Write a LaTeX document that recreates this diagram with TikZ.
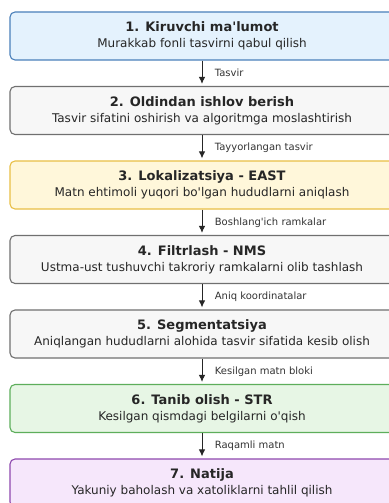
\documentclass[tikz,border=0pt]{standalone}
\usepackage{fontspec}
\setmainfont{DejaVu Sans}[Ligatures=TeXOff]
\usetikzlibrary{arrows.meta}
\definecolor{bluefill}{HTML}{E4F2FD}
\definecolor{blueline}{HTML}{4A80BA}
\definecolor{grayfill}{HTML}{F7F7F7}
\definecolor{grayline}{HTML}{707070}
\definecolor{yellowfill}{HTML}{FFF7DA}
\definecolor{yellowline}{HTML}{E8BF45}
\definecolor{greenfill}{HTML}{E7F6E5}
\definecolor{greenline}{HTML}{5DAE5B}
\definecolor{purplefill}{HTML}{F6E7FB}
\definecolor{purpleline}{HTML}{8E48AE}
\newcommand{\titlef}{\bfseries\fontsize{13}{17.5}\selectfont}
\newcommand{\subf}{\fontsize{12}{17.5}\selectfont}
\begin{document}
\begin{tikzpicture}[x=1pt,y=-1pt,
	box/.style={draw,rounded corners=5pt,line width=1.1pt,minimum width=384pt,
		minimum height=48pt,align=center,inner sep=0pt,text=black!85},
	flow/.style={-{Latex[length=7pt,width=6.5pt]},line width=1pt,draw=black!85,shorten >=2pt},
	lbl/.style={right=9pt,font=\fontsize{10}{11}\selectfont,text=black!80}]
	\useasboundingbox[fill=white] (0,0) rectangle (388,503);
	%bosqichlar
	\node[box,fill=bluefill,draw=blueline] (b1) at (202,36)
		{\titlef 1. Kiruvchi ma'lumot\\[4pt]\subf Murakkab fonli tasvirni qabul qilish};
	\node[box,fill=grayfill,draw=grayline] (b2) at (202,110.5)
		{\titlef 2. Oldindan ishlov berish\\[4pt]\subf Tasvir sifatini oshirish va algoritmga moslashtirish};
	\node[box,fill=yellowfill,draw=yellowline] (b3) at (202,185)
		{\titlef 3. Lokalizatsiya - EAST\\[4pt]\subf Matn ehtimoli yuqori bo'lgan hududlarni aniqlash};
	\node[box,fill=grayfill,draw=grayline] (b4) at (202,259.5)
		{\titlef 4. Filtrlash - NMS\\[4pt]\subf Ustma-ust tushuvchi takroriy ramkalarni olib tashlash};
	\node[box,fill=grayfill,draw=grayline] (b5) at (202,334)
		{\titlef 5. Segmentatsiya\\[4pt]\subf Aniqlangan hududlarni alohida tasvir sifatida kesib olish};
	\node[box,fill=greenfill,draw=greenline] (b6) at (202,408.5)
		{\titlef 6. Tanib olish - STR\\[4pt]\subf Kesilgan qismdagi belgilarni o'qish};
	\node[box,fill=purplefill,draw=purpleline] (b7) at (202,483)
		{\titlef 7. Natija\\[4pt]\subf Yakuniy baholash va xatoliklarni tahlil qilish};
	%strelkalar
	\foreach \a/\b/\t in {b1/b2/Tasvir,b2/b3/Tayyorlangan tasvir,
		b3/b4/Boshlang'ich ramkalar,b4/b5/Aniq koordinatalar,
		b5/b6/Kesilgan matn bloki,b6/b7/Raqamli matn}
	{
		\draw[flow] (\a.south) -- (\b.north) node[lbl,midway] {\t};
	}
\end{tikzpicture}
\end{document}
